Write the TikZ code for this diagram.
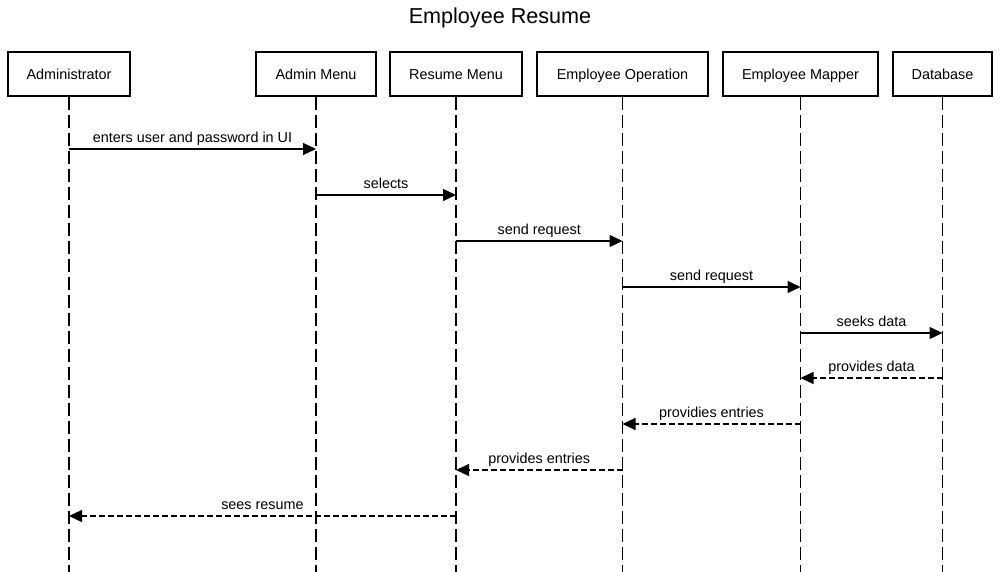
\documentclass[tikz,border=0pt]{standalone}
\usepackage{fontspec}
\setmainfont{Liberation Sans}
\usetikzlibrary{arrows.meta}

\begin{document}
\begin{tikzpicture}[x=1pt, y=-1pt,
    actor/.style={draw, line width=2.4pt, minimum height=44pt, inner sep=0pt,
        text height=12.5pt, text depth=1.5pt, font=\fontsize{14.4}{17}\selectfont},
    lifeline/.style={line width=1.2pt, dash pattern=on 13pt off 5pt},
    msg/.style={line width=1.2pt, -{Triangle[length=13pt, width=12pt]}},
    reply/.style={msg, dash pattern=on 6pt off 3pt},
    lbl/.style={midway, above, inner sep=2.5pt, text height=10.5pt, text depth=3pt,
        font=\fontsize{14.4}{17}\selectfont}]
    \useasboundingbox (0,0) rectangle (1000,572);

    % Title
    \node[font=\fontsize{21.6}{26}\selectfont] (title) at (500,18) {Employee Resume};

    % Participants
    \node[actor, minimum width=122pt] (admin) at (69,74) {Administrator};
    \node[actor, minimum width=120pt] (amenu) at (316,74) {Admin Menu};
    \node[actor, minimum width=132pt] (rmenu) at (456,74) {Resume Menu};
    \node[actor, minimum width=171pt] (empop) at (622.5,74) {Employee Operation};
    \node[actor, minimum width=155pt] (empmap) at (800.5,74) {Employee Mapper};
    \node[actor, minimum width=99pt] (db) at (942.5,74) {Database};

    % Lifelines
    \coordinate (admin-end) at (admin.south |- 0,572);
    \coordinate (amenu-end) at (amenu.south |- 0,572);
    \coordinate (rmenu-end) at (rmenu.south |- 0,572);
    \coordinate (empop-end) at (empop.south |- 0,572);
    \coordinate (empmap-end) at (empmap.south |- 0,572);
    \coordinate (db-end) at (db.south |- 0,572);
    \draw[lifeline] (admin.south) -- (admin-end);
    \draw[lifeline] (amenu.south) -- (amenu-end);
    \draw[lifeline] (rmenu.south) -- (rmenu-end);
    \draw[lifeline] (empop.south) -- (empop-end);
    \draw[lifeline] (empmap.south) -- (empmap-end);
    \draw[lifeline] (db.south) -- (db-end);

    % Requests
    \draw[msg] (admin |- 0,149) -- (amenu |- 0,149) node[lbl] {enters user and password in UI};
    \draw[msg] (amenu |- 0,195) -- (rmenu |- 0,195) node[lbl] {selects};
    \draw[msg] (rmenu |- 0,241) -- (empop |- 0,241) node[lbl] {send request};
    \draw[msg] (empop |- 0,287) -- (empmap |- 0,287) node[lbl] {send request};
    \draw[msg] (empmap |- 0,333) -- (db |- 0,333) node[lbl] {seeks data};

    % Replies
    \draw[reply] (db |- 0,378) -- (empmap |- 0,378) node[lbl] {provides data};
    \draw[reply] (empmap |- 0,424) -- (empop |- 0,424) node[lbl] {providies entries};
    \draw[reply] (empop |- 0,470) -- (rmenu |- 0,470) node[lbl] {provides entries};
    \draw[reply] (rmenu |- 0,516) -- (admin |- 0,516) node[lbl] {sees resume};
\end{tikzpicture}
\end{document}
